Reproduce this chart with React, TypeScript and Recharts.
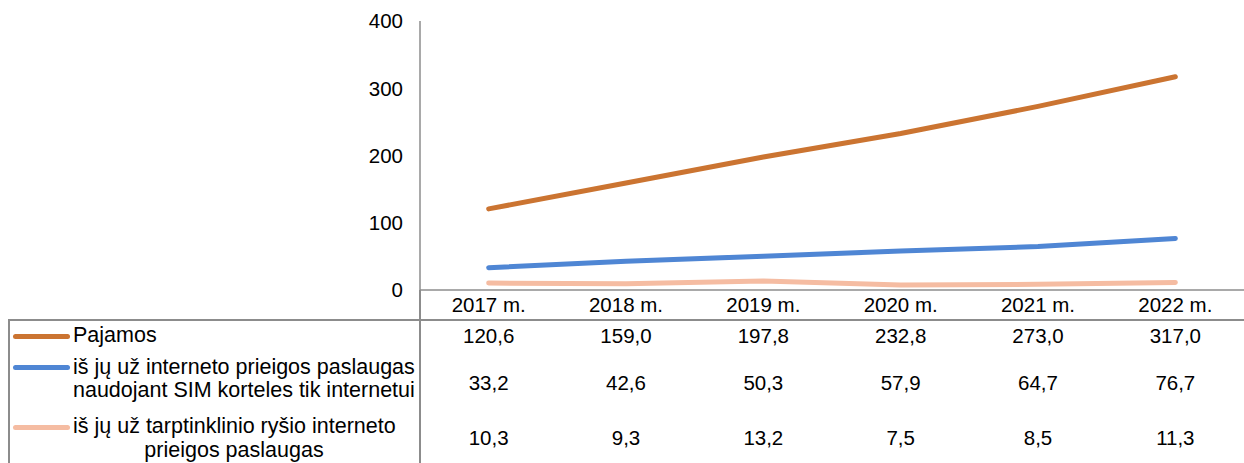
import { Line, LineChart, XAxis, YAxis } from 'recharts';

const YEARS = ['2017 m.', '2018 m.', '2019 m.', '2020 m.', '2021 m.', '2022 m.'];
const PAJAMOS = [120.6, 159.0, 197.8, 232.8, 273.0, 317.0];
const SIM_INTERNETAS = [33.2, 42.6, 50.3, 57.9, 64.7, 76.7];
const TARPTINKLINIS = [10.3, 9.3, 13.2, 7.5, 8.5, 11.3];
const Y_TICKS = [0, 100, 200, 300, 400];

const SERIES = [
  { key: 'pajamos', values: PAJAMOS, color: '#CB7431' },
  { key: 'sim', values: SIM_INTERNETAS, color: '#4F86D4' },
  { key: 'roaming', values: TARPTINKLINIS, color: '#F5BCA2' },
];

const FONT = '"Liberation Sans", Arial, sans-serif';
const GRID = '#8c8c8c';
const PAD = 824 / 12;

const rows = YEARS.map((year, i) => ({
  year,
  pajamos: PAJAMOS[i],
  sim: SIM_INTERNETAS[i],
  roaming: TARPTINKLINIS[i],
}));

const fmt = (v: number) => v.toFixed(1).replace('.', ',');

function Sample({ y, color }: { y: number; color: string }) {
  return (
    <div
      style={{
        position: 'absolute',
        left: 13,
        top: y - 2.5,
        width: 57,
        height: 5,
        borderRadius: 3,
        background: color,
      }}
    />
  );
}

export default function App() {
  const tick = { fill: '#000', fontSize: 20.5, fontFamily: FONT };
  const valueAxis = (id: string, values: number[], height: number, margin: number) => (
    <XAxis
      key={id}
      xAxisId={id}
      dataKey="year"
      padding={{ left: PAD, right: PAD }}
      height={height}
      axisLine={false}
      tickLine={false}
      tickSize={0}
      tickMargin={margin}
      interval={0}
      tick={tick}
      tickFormatter={(_v: string, i: number) => fmt(values[i])}
    />
  );

  const legendText = { position: 'absolute' as const, fontSize: 21.5, whiteSpace: 'nowrap' as const };

  return (
    <div
      style={{
        position: 'absolute',
        left: 0,
        top: 0,
        width: 1244,
        height: 463,
        background: '#fff',
        fontFamily: FONT,
        color: '#000',
        overflow: 'hidden',
      }}
    >
      <LineChart
        width={1244}
        height={463}
        data={rows}
        margin={{ top: 21, right: 0, bottom: 0, left: 0 }}
      >
        <YAxis
          width={420}
          domain={[0, 400]}
          ticks={Y_TICKS}
          axisLine={{ stroke: GRID, strokeWidth: 1.5 }}
          tickLine={false}
          tickSize={0}
          tickMargin={17}
          tick={tick}
        />
        <XAxis
          xAxisId="cat"
          dataKey="year"
          padding={{ left: PAD, right: PAD }}
          height={30}
          axisLine={{ stroke: GRID, strokeWidth: 1.5 }}
          tickLine={false}
          tickSize={0}
          tickMargin={7}
          interval={0}
          tick={tick}
        />
        {valueAxis('r1', PAJAMOS, 30, 8)}
        {valueAxis('r2', SIM_INTERNETAS, 55, 25)}
        {valueAxis('r3', TARPTINKLINIS, 58, 25)}
        {SERIES.map((s) => (
          <Line
            key={s.key}
            xAxisId="cat"
            dataKey={s.key}
            stroke={s.color}
            strokeWidth={5}
            strokeLinecap="round"
            dot={false}
            activeDot={false}
            isAnimationActive={false}
          />
        ))}
      </LineChart>

      {/* table frame */}
      <div style={{ position: 'absolute', left: 8, top: 319, width: 1236, height: 1.5, background: GRID }} />
      <div style={{ position: 'absolute', left: 8, top: 319, width: 1.5, height: 150, background: GRID }} />
      <div style={{ position: 'absolute', left: 419.25, top: 290, width: 1.5, height: 180, background: GRID }} />

      <Sample y={336} color={SERIES[0].color} />
      <Sample y={367} color={SERIES[1].color} />
      <Sample y={427} color={SERIES[2].color} />

      <div style={{ ...legendText, left: 73, top: 324, lineHeight: '23px' }}>Pajamos</div>
      <div style={{ ...legendText, left: 73, top: 356, lineHeight: '23px' }}>
        iš jų už interneto prieigos paslaugas
        <br />
        naudojant SIM korteles tik internetui
      </div>
      <div style={{ ...legendText, left: 73, top: 414, lineHeight: '24px' }}>
        iš jų už tarptinklinio ryšio interneto
      </div>
      <div style={{ ...legendText, left: 84, top: 438, width: 300, textAlign: 'center', lineHeight: '24px' }}>
        prieigos paslaugas
      </div>
    </div>
  );
}
